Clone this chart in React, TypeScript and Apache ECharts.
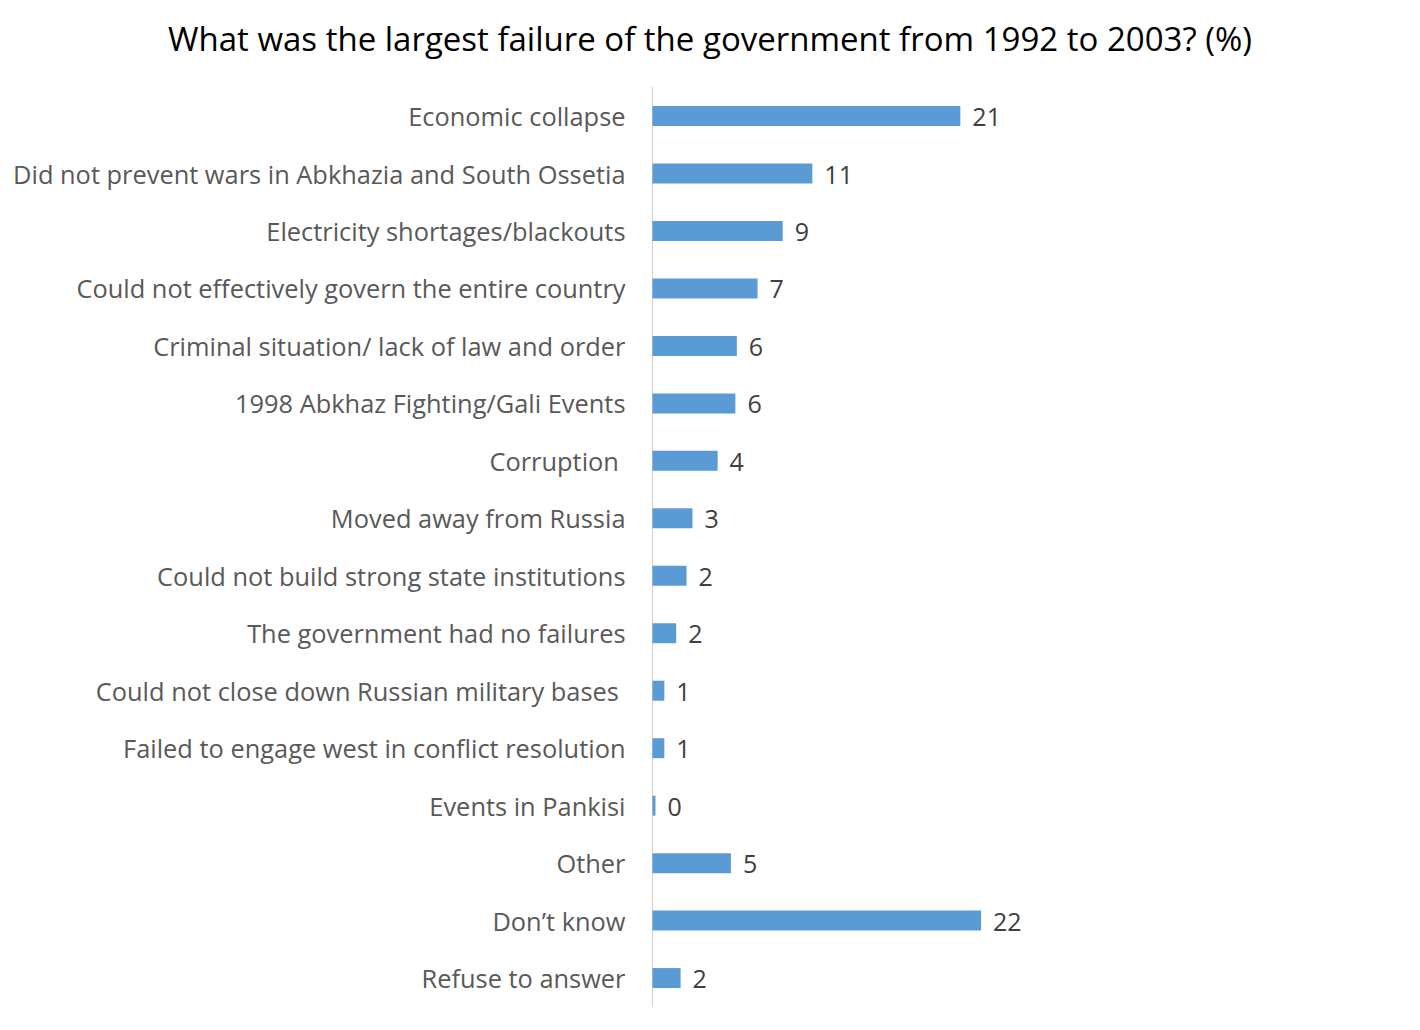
import React, { useEffect, useRef } from "react";
import * as echarts from "echarts";

const titleText = "What was the largest failure of the government from 1992 to 2003? (%)";

const categories = [
  "Economic collapse",
  "Did not prevent wars in Abkhazia and South Ossetia",
  "Electricity shortages/blackouts",
  "Could not effectively govern the entire country",
  "Criminal situation/ lack of law and order",
  "1998 Abkhaz Fighting/Gali Events",
  "Corruption ",
  "Moved away from Russia",
  "Could not build strong state institutions",
  "The government had no failures",
  "Could not close down Russian military bases ",
  "Failed to engage west in conflict resolution",
  "Events in Pankisi",
  "Other",
  "Don\u2019t know",
  "Refuse to answer",
];

const values = [20.8, 10.8, 8.8, 7.1, 5.7, 5.6, 4.4, 2.7, 2.3, 1.6, 0.8, 0.8, 0.2, 5.3, 22.2, 1.9];

const xMin = 0;
const xMax = 25;

export default function App() {
  const ref = useRef<HTMLDivElement>(null);
  useEffect(() => {
    if (!ref.current) return;
    const chart = echarts.init(ref.current, null, { renderer: "svg" });
    chart.setOption({
      animation: false,
      backgroundColor: "#ffffff",
      title: {
        text: titleText,
        left: "center",
        top: 17,
        textStyle: {
          fontFamily: "Open Sans",
          fontSize: 33,
          fontWeight: "normal",
          color: "#000000",
        },
      },
      grid: {
        left: 652.5,
        right: 397.5,
        top: 87.3,
        bottom: 23.2,
        containLabel: false,
      },
      xAxis: {
        type: "value",
        min: xMin,
        max: xMax,
        show: false,
        splitLine: { show: false },
      },
      yAxis: {
        type: "category",
        data: categories,
        inverse: true,
        axisLine: { show: true, lineStyle: { color: "#d0d0d0", width: 1 } },
        axisTick: { show: false },
        axisLabel: {
          margin: 27,
          fontFamily: "Open Sans",
          fontSize: 25.4,
          color: "#595959",
        },
        splitLine: { show: false },
      },
      series: [
        {
          type: "bar",
          data: values,
          barWidth: 20,
          itemStyle: { color: "#5b9bd5" },
          label: {
            show: true,
            position: "right",
            distance: 12,
            fontFamily: "Open Sans",
            fontSize: 25,
            color: "#404040",
            formatter: (p: any) => String(Math.round(p.value)),
          },
        },
      ],
    });
    return () => chart.dispose();
  }, []);
  return (
    <div
      ref={ref}
      style={{ position: "fixed", left: 0, top: 0, width: 1420, height: 1030 }}
    />
  );
}
